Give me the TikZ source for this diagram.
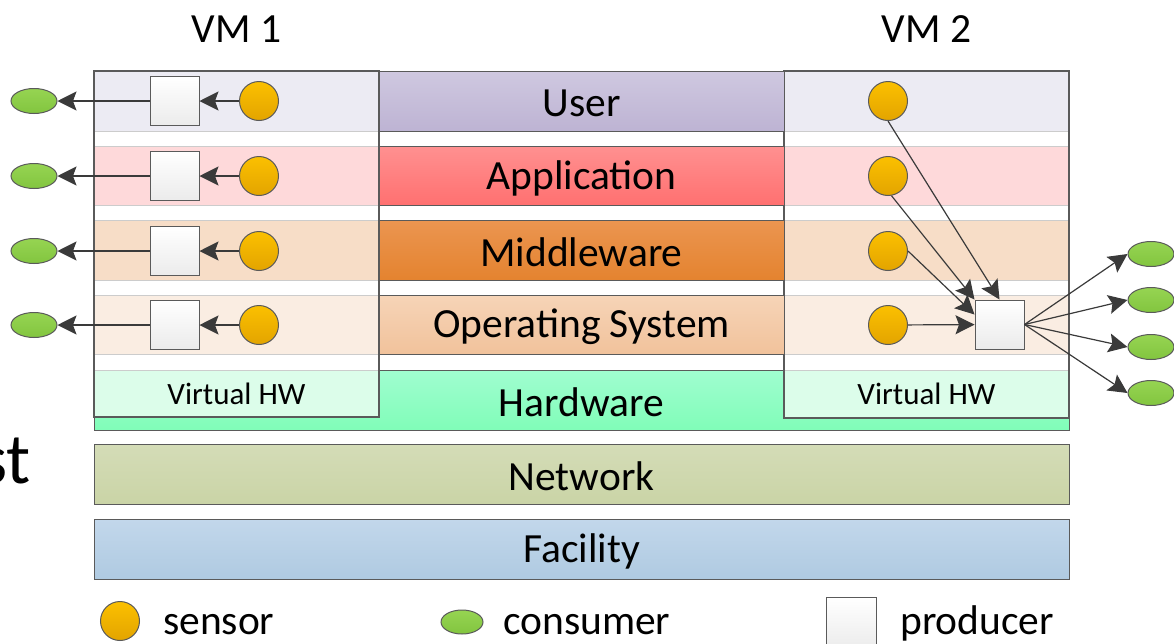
\documentclass[tikz,border=0pt]{standalone}
\usepackage{fontspec}
\setmainfont{Carlito}
\usetikzlibrary{arrows.meta,shapes.geometric,calc}
\definecolor{edgec}{HTML}{5A5A5A}
\definecolor{linec}{HTML}{3A3A3A}
\definecolor{rowlinec}{HTML}{CCCCCC}
\definecolor{userT}{HTML}{CFC8E0}\definecolor{userB}{HTML}{BDB3D3}
\definecolor{appT}{HTML}{FF9090}\definecolor{appB}{HTML}{FF7070}
\definecolor{mwT}{HTML}{EB9550}\definecolor{mwB}{HTML}{E4832F}
\definecolor{osT}{HTML}{F6D4B7}\definecolor{osB}{HTML}{F1C29B}
\definecolor{hwT}{HTML}{A0FDD0}\definecolor{hwB}{HTML}{80FDB8}
\definecolor{netT}{HTML}{D4DCB7}\definecolor{netB}{HTML}{CAD4A6}
\definecolor{facT}{HTML}{C2D7EB}\definecolor{facB}{HTML}{AFCAE1}
\definecolor{vUser}{HTML}{ECEBF3}
\definecolor{vApp}{HTML}{FED9DA}
\definecolor{vMw}{HTML}{F7DDC7}
\definecolor{vOs}{HTML}{FAEDE2}
\definecolor{vHw}{HTML}{DCFDEA}
\definecolor{senT}{HTML}{FBC000}\definecolor{senB}{HTML}{E3A400}
\definecolor{conT}{HTML}{96D452}\definecolor{conB}{HTML}{82C53F}
\definecolor{proB}{HTML}{EBEBEB}
\newcommand\LayerFont{\fontsize{41.5}{49}\selectfont}
\newcommand\SmallFont{\fontsize{31}{37}\selectfont}
\newcommand\HugeFont{\fontsize{72}{86}\selectfont}
\begin{document}
\begin{tikzpicture}[x=1pt,y=-1pt,
  every node/.style={font=\LayerFont, text=black},
  layer/.style={draw=edgec, line width=1pt, minimum width=405pt, minimum height=59pt, inner sep=0pt, anchor=north west},
  band/.style={draw=edgec, line width=1pt, minimum width=975pt, minimum height=60pt, inner sep=0pt, anchor=north west},
  rowbox/.style={draw=rowlinec, line width=1pt},
  frame/.style={draw=edgec, line width=1.5pt},
  sensor/.style={circle, draw=edgec, line width=1pt, minimum size=39pt, inner sep=0pt, top color=senT, bottom color=senB},
  consumer/.style={ellipse, draw=edgec, line width=1pt, minimum width=46pt, minimum height=25pt, inner sep=0pt, top color=conT, bottom color=conB},
  producer/.style={rectangle, draw=edgec, line width=1pt, minimum size=49pt, inner sep=0pt, top color=white, bottom color=proB},
  arr/.style={draw=linec, line width=1.2pt, -{Stealth[length=19pt,width=19pt,inset=3.5pt]}},
  legtext/.style={anchor=base west, inner sep=0pt}
]
\clip (0,0) rectangle (1174,643);
% hardware band
\node[band, minimum height=60pt, top color=hwT, bottom color=hwB] (hwband) at (94,370) {};
% VM 1 rows
\draw[rowbox, fill=vUser] (94,71) rectangle (379,131);
\draw[rowbox, fill=vApp] (94,146) rectangle (379,205);
\draw[rowbox, fill=vMw] (94,220) rectangle (379,280);
\draw[rowbox, fill=vOs] (94,295) rectangle (379,354);
\draw[rowbox, fill=vHw] (94,370) rectangle (379,417);
\draw[frame] (94,71) rectangle (379,417);
% VM 2 rows
\draw[rowbox, fill=vUser] (784,71) rectangle (1069,131);
\draw[rowbox, fill=vApp] (784,146) rectangle (1069,205);
\draw[rowbox, fill=vMw] (784,220) rectangle (1069,280);
\draw[rowbox, fill=vOs] (784,295) rectangle (1069,354);
\draw[rowbox, fill=vHw] (784,370) rectangle (1069,418);
\draw[frame] (784,71) rectangle (1069,418);
% centre layers
\node[layer, minimum height=60pt, top color=userT, bottom color=userB] (user) at (379,71) {};
\node[layer, top color=appT, bottom color=appB] (app) at (379,146) {};
\node[layer, minimum height=60pt, top color=mwT, bottom color=mwB] (mw) at (379,220) {};
\node[layer, top color=osT, bottom color=osB] (os) at (379,295) {};
\draw[edgec, line width=1pt] (379,370) -- (784,370);
\node (userT) at (581.5,103) {User};
\node (appTx) at (581.5,178) {Application};
\node (mwTx) at (581.5,252) {Middleware};
\node (osTx) at (581.5,327) {Operating System};
\node (hwTx) at (581.5,402) {Hardware};
\node[font=\SmallFont] (vhw1) at (236.5,394) {Virtual HW};
\node[font=\SmallFont] (vhw2) at (926.5,394) {Virtual HW};
% network, facility
\node[band, top color=netT, bottom color=netB] (net) at (94,444) {};
\node (netTx) at (581.5,476) {Network};
\node[band, top color=facT, bottom color=facB] (fac) at (94,519) {};
\node (facTx) at (581.5,551) {Facility};
% VM 1 sensors, producers, consumers
\foreach \i/\y in {1/101,2/176,3/251,4/325}{
  \node[sensor] (a\i) at (259,\y) {};
  \node[producer] (p\i) at (174.5,\y) {};
  \node[consumer] (c\i) at (34,\y) {};
  \draw[arr] (a\i) -- (p\i);
  \draw[arr] (p\i) -- (c\i);
}
% VM 2
\foreach \i/\y in {1/101,2/176,3/251,4/325}{
  \node[sensor] (b\i) at (888,\y) {};
}
\node[producer] (q) at (999.5,324.5) {};
\coordinate (qin) at ($(q.north west)!0.3!(q.south west)$);
\draw[arr] (b1.south) -- (q.north);
\draw[arr] (b2.-80) -- (q.north west);
\draw[arr] (b3.east) -- (qin);
\draw[arr] (b4) -- (q);
\foreach \i/\y in {1/254,2/300,3/347,4/393}{
  \node[consumer] (d\i) at (1151,\y) {};
  \draw[arr] (q.east) -- (d\i.west);
}
% titles
\node[anchor=base, inner sep=0pt] (vm1) at (236.5,42) {VM 1};
\node[anchor=base, inner sep=0pt] (vm2) at (926.5,42) {VM 2};
\node[anchor=base east, inner sep=0pt, font=\HugeFont] (st) at (31,483) {st};
% legend
\node[sensor] (ls) at (120,621) {};
\node[legtext] (lst) at (163,634) {sensor};
\node[consumer, minimum width=42pt, minimum height=24pt] (lc) at (462,622) {};
\node[legtext] (lct) at (503,634) {consumer};
\node[producer, minimum width=50pt, minimum height=53pt, anchor=north west] (lp) at (826,597) {};
\node[legtext] (lpt) at (900,634) {producer};
\end{tikzpicture}
\end{document}
